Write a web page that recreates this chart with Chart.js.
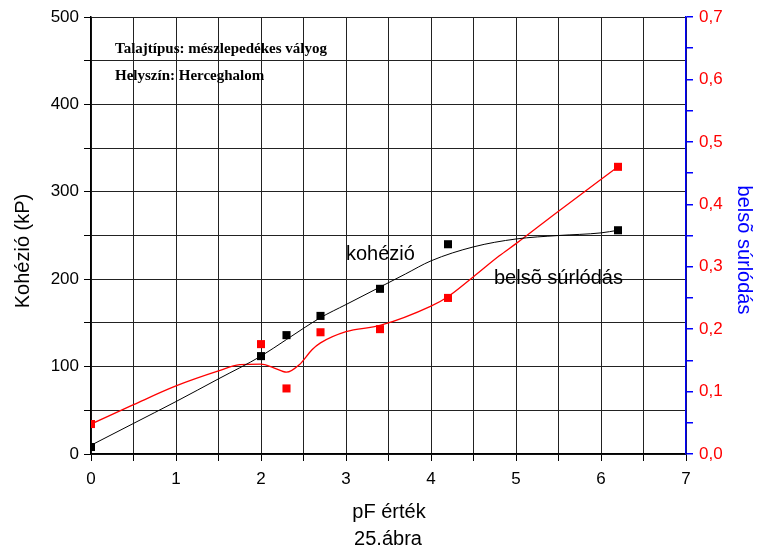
<!DOCTYPE html>
<html>
<head>
<meta charset="utf-8">
<script src="https://cdn.jsdelivr.net/npm/chart.js@4.4.1/dist/chart.umd.min.js"></script>
<style>
  body { margin: 0; background: #fff; }
</style>
</head>
<body>
<canvas id="myChart" width="760" height="555"></canvas>
<script>
// measured points
const pfValues = [0, 2, 2.3, 2.7, 3.4, 4.2, 6.2];
const kohezio = [8, 112, 136, 158, 189, 240, 256];
const surlodas = [0.048, 0.176, 0.105, 0.195, 0.2, 0.25, 0.46];

// fitted curves
const kohezioFitX = [0, 0.5, 1, 1.5, 2, 2.3, 2.7, 3, 3.4, 3.7, 4, 4.5, 5, 5.5, 6, 6.2];
const kohezioFitY = [10, 35, 60, 86, 112, 131, 156, 171, 191, 206, 221, 237, 246, 250, 253, 256];
const surlodasFitX = [0, 0.5, 1, 1.5, 1.75, 2, 2.15, 2.3, 2.45, 2.6, 2.7, 3, 3.4, 4, 4.2, 4.5, 4.8, 5, 5.5, 6.2];
const surlodasFitY = [0.048, 0.079, 0.109, 0.133, 0.143, 0.144, 0.138, 0.131, 0.143, 0.167, 0.178, 0.196, 0.206, 0.237, 0.252, 0.284, 0.317, 0.337, 0.389, 0.46];

// axis tick values
const xTicks = [0, 1, 2, 3, 4, 5, 6, 7];
const yTicks = [0, 100, 200, 300, 400, 500];
const y1Ticks = ['0,0', '0,1', '0,2', '0,3', '0,4', '0,5', '0,6', '0,7'];

const FONT = "'Liberation Sans', Arial, sans-serif";
const RED = '#ff0000';
const BLUE = '#0000ff';

const toPoints = function(xs, ys){
  return xs.map((x, i) => ({ x: x, y: ys[i] }));
}

// texts that sit on the picture but are not part of an axis
const extraText = {
  id: 'extraText',
  afterDatasetsDraw(chart){
    const ctx = chart.ctx;
    ctx.save();
    ctx.fillStyle = '#000';
    ctx.textBaseline = 'alphabetic';
    ctx.textAlign = 'left';

    ctx.font = "bold 15px 'Liberation Serif', 'Times New Roman', serif";
    ctx.fillText('Talajtípus: mészlepedékes vályog', 115, 53);
    ctx.fillText('Helyszín: Herceghalom', 115, 80);

    ctx.font = '20px ' + FONT;
    ctx.fillText('kohézió', 346, 260);
    ctx.fillText('belsõ súrlódás', 494, 284);

    ctx.textAlign = 'center';
    ctx.fillText('pF érték', 389, 518);
    ctx.fillText('25.ábra', 388, 545);

    // left axis title
    ctx.save();
    ctx.translate(29, 251);
    ctx.rotate(-Math.PI / 2);
    ctx.fillText('Kohézió (kP)', 0, 0);
    ctx.restore();

    // right axis title
    ctx.save();
    ctx.fillStyle = BLUE;
    ctx.translate(738, 250);
    ctx.rotate(Math.PI / 2);
    ctx.fillText('belsõ súrlódás', 0, 0);
    ctx.restore();

    ctx.restore();
  }
};

const ctx = document.getElementById('myChart');

const myChart = new Chart(ctx, {
  type: 'scatter',
  data: {
    datasets: [
      {
        label: 'kohézió görbe',
        data: toPoints(kohezioFitX, kohezioFitY),
        showLine: true,
        borderColor: '#000',
        borderWidth: 1,
        pointRadius: 0,
        cubicInterpolationMode: 'monotone',
        yAxisID: 'y'
      },
      {
        label: 'belsõ súrlódás görbe',
        data: toPoints(surlodasFitX, surlodasFitY),
        showLine: true,
        borderColor: RED,
        borderWidth: 1.3,
        pointRadius: 0,
        cubicInterpolationMode: 'monotone',
        yAxisID: 'y1'
      },
      {
        label: 'kohézió',
        data: toPoints(pfValues, kohezio),
        pointStyle: 'rect',
        pointRadius: 5.7,
        borderWidth: 0,
        backgroundColor: '#000',
        yAxisID: 'y'
      },
      {
        label: 'belsõ súrlódás',
        data: toPoints(pfValues, surlodas),
        pointStyle: 'rect',
        pointRadius: 5.7,
        borderWidth: 0,
        backgroundColor: RED,
        yAxisID: 'y1'
      }
    ]
  },
  options: {
    responsive: false,
    animation: false,
    devicePixelRatio: 1,
    layout: { padding: { top: 17, left: 0, right: 0, bottom: 0 } },
    plugins: {
      legend: { display: false },
      tooltip: { enabled: false }
    },
    scales: {
      x: {
        type: 'linear',
        min: 0,
        max: 7,
        afterFit: (scale) => { scale.height = 101; },
        ticks: {
          stepSize: 0.5,
          autoSkip: false,
          maxRotation: 0,
          padding: 8,
          color: '#000',
          font: { family: FONT, size: 17 },
          callback: (v) => xTicks.includes(v) ? String(v) : ''
        },
        grid: { color: '#222', lineWidth: 1, tickLength: 7, tickColor: '#000' },
        border: { color: '#000', width: 1.5 }
      },
      y: {
        position: 'left',
        min: 0,
        max: 500,
        afterFit: (scale) => { scale.width = 91; },
        ticks: {
          stepSize: 50,
          autoSkip: false,
          padding: 5,
          color: '#000',
          font: { family: FONT, size: 17 },
          callback: (v) => yTicks.includes(v) ? String(v) : ''
        },
        grid: { color: '#222', lineWidth: 1, tickLength: 7, tickColor: '#000' },
        border: { color: '#000', width: 1.5 }
      },
      y1: {
        position: 'right',
        min: 0,
        max: 0.7,
        afterFit: (scale) => { scale.width = 74; },
        ticks: {
          stepSize: 0.05,
          autoSkip: false,
          padding: 6,
          color: RED,
          font: { family: FONT, size: 17 },
          callback: (v) => {
            const t = Math.round(v * 100);
            return t % 10 === 0 ? y1Ticks[t / 10] : '';
          }
        },
        grid: { drawOnChartArea: false, tickLength: 7, tickColor: BLUE, lineWidth: 1.5 },
        border: { color: BLUE, width: 1.5 }
      }
    }
  },
  plugins: [extraText]
});
</script>
</body>
</html>
